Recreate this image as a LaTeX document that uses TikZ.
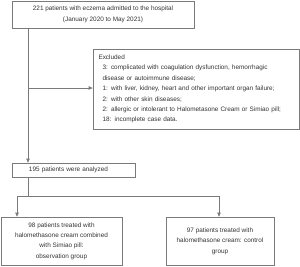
\documentclass[tikz,border=0pt]{standalone}
\usepackage{fontspec}
\setmainfont{Liberation Sans}
\usetikzlibrary{arrows.meta}
\definecolor{linec}{HTML}{7A7A7A}
\definecolor{textc}{HTML}{333333}
\begin{document}
\begin{tikzpicture}[x=1pt,y=-1pt,
  box/.style={draw=linec,line width=0.7pt,inner sep=0pt,text=textc,
    font=\fontsize{6.4}{10.4}\selectfont,align=center},
  conn/.style={draw=linec,line width=0.7pt},
  arr/.style={conn,-{Stealth[length=4pt,width=3.5pt,inset=0pt]},shorten >=0pt}]
\useasboundingbox (0,0) rectangle (300,266);
\node[box,minimum width=182pt,minimum height=27pt] (top) at (103,14.5)
  {221 patients with eczema admitted to the hospital\\(January 2020 to May 2021)};
\node[box,minimum width=206pt,minimum height=80pt,text width=195pt,align=left] (excl) at (196,89)
  {Excluded\\
  \hspace*{4pt}3: complicated with coagulation dysfunction, hemorrhagic\\
  \hspace*{4pt}disease or autoimmune disease;\\
  \hspace*{4pt}1: with liver, kidney, heart and other important organ failure;\\
  \hspace*{4pt}2: with other skin diseases;\\
  \hspace*{4pt}2: allergic or intolerant to Halometasone Cream or Simiao pill;\\
  \hspace*{4pt}18: incomplete case data.};
\node[box,minimum width=123pt,minimum height=14pt,text width=115pt,align=left] (mid) at (73.5,170)
  {\hspace*{13pt}195 patients were analyzed};
\node[box,minimum width=121pt,minimum height=48pt] (left) at (61.5,241)
  {98 patients treated with\\halomethasone cream combined\\with Simiao pill:\\observation group};
\node[box,minimum width=108pt,minimum height=48pt] (right) at (220,241)
  {97 patients treated with\\halomethasone cream: control\\group};
\coordinate (c1) at (28,88);
\coordinate (c2) at (28,196);
\coordinate (c3) at (17,196);
\coordinate (c4) at (219,196);
\draw[arr] (c1 |- top.south) -- (c1 |- mid.north);
\draw[arr] (c1) -- (excl.west |- c1);
\draw[conn] (c1 |- mid.south) -- (c2);
\draw[conn] (c3) -- (c4);
\draw[arr] (c3) -- (c3 |- left.north);
\draw[arr] (c4) -- (c4 |- right.north);
\end{tikzpicture}
\end{document}
